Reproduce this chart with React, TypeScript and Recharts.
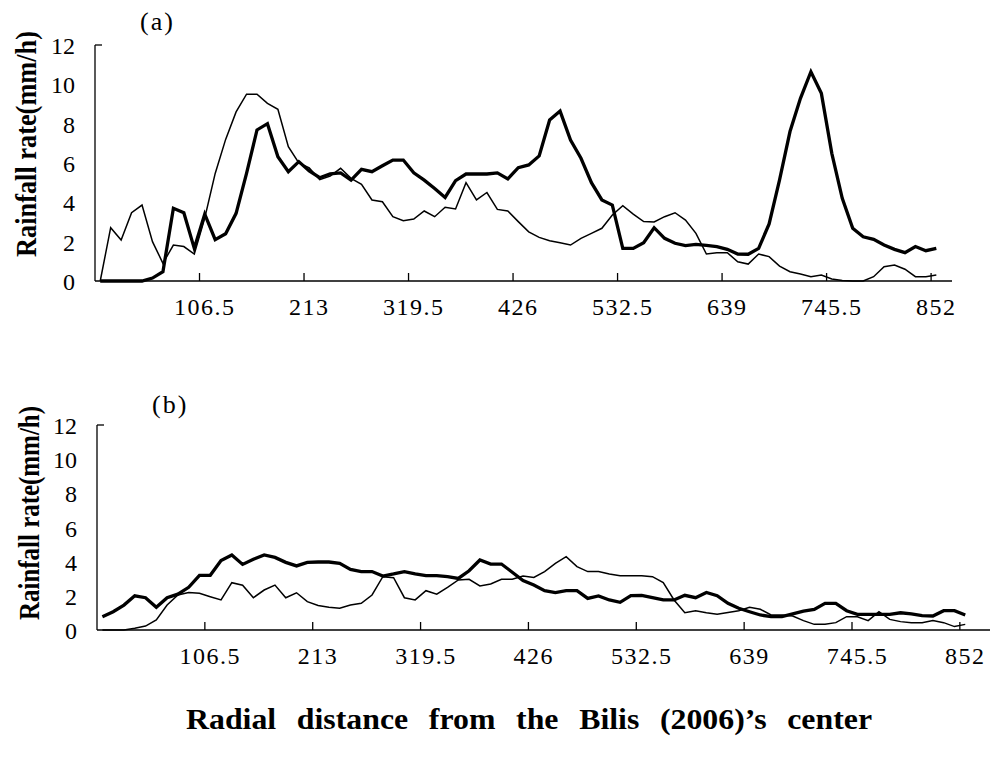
import React from "react";
import { LineChart, Line, XAxis, YAxis } from "recharts";

// ---------- data ----------
const STEP_KM = 10.65;
const distanceTickLabels = ["106.5", "213", "319.5", "426", "532.5", "639", "745.5", "852"];
const rainTicks = [0, 2, 4, 6, 8, 10, 12];

// (a) bold series
const topThick = [
  0, 0, 0, 0, 0, 0.15, 0.47, 3.7, 3.47, 1.66,
  3.4, 2.1, 2.4, 3.44, 5.47, 7.68, 8.0, 6.32, 5.56, 6.07,
  5.6, 5.25, 5.45, 5.5, 5.13, 5.68, 5.56, 5.86, 6.15, 6.15,
  5.5, 5.13, 4.7, 4.25, 5.1, 5.44, 5.44, 5.44, 5.5, 5.19,
  5.76, 5.9, 6.36, 8.19, 8.64, 7.17, 6.24, 5.0, 4.12, 3.86,
  1.66, 1.66, 1.95, 2.71, 2.17, 1.92, 1.8, 1.86, 1.81, 1.75,
  1.61, 1.37, 1.36, 1.66, 2.9, 5.14, 7.6, 9.29, 10.64, 9.54,
  6.49, 4.2, 2.68, 2.25, 2.12, 1.83, 1.61, 1.44, 1.75, 1.54,
  1.66,
];
// (a) thin series
const topThin = [
  0, 2.71, 2.08, 3.47, 3.86, 2.0, 0.9, 1.83, 1.75, 1.37,
  3.2, 5.47, 7.2, 8.6, 9.5, 9.5, 9.03, 8.73, 6.83, 6.0,
  5.75, 5.15, 5.34, 5.73, 5.22, 4.92, 4.12, 4.03, 3.27, 3.07,
  3.15, 3.56, 3.27, 3.75, 3.66, 5.0, 4.12, 4.5, 3.64, 3.56,
  3.02, 2.5, 2.22, 2.05, 1.95, 1.83, 2.17, 2.42, 2.68, 3.36,
  3.83, 3.4, 3.02, 3.0, 3.27, 3.47, 3.1, 2.42, 1.37, 1.44,
  1.44, 0.98, 0.86, 1.37, 1.24, 0.76, 0.47, 0.36, 0.22, 0.3,
  0.1, 0.02, 0, 0, 0.22, 0.73, 0.81, 0.6, 0.22, 0.22,
  0.3,
];
// (b) bold series
const bottomThick = [
  0.78, 1.07, 1.46, 2.0, 1.89, 1.33, 1.89, 2.1, 2.5, 3.2,
  3.2, 4.06, 4.39, 3.84, 4.14, 4.39, 4.25, 3.96, 3.75, 3.96,
  3.98, 3.98, 3.9, 3.55, 3.42, 3.42, 3.16, 3.28, 3.42, 3.28,
  3.18, 3.18, 3.12, 3.02, 3.47, 4.1, 3.86, 3.86, 3.38, 2.89,
  2.63, 2.3, 2.19, 2.3, 2.3, 1.85, 1.99, 1.76, 1.62, 2.01,
  2.03, 1.89, 1.76, 1.76, 2.03, 1.89, 2.2, 2.01, 1.56, 1.27,
  1.07, 0.88, 0.78, 0.78, 0.94, 1.11, 1.21, 1.56, 1.56, 1.13,
  0.92, 0.92, 0.92, 0.92, 1.01, 0.94, 0.84, 0.82, 1.13, 1.13,
  0.88,
];
// (b) thin series
const bottomThin = [
  0, 0, 0, 0.1, 0.23, 0.59, 1.46, 2.05, 2.2, 2.15,
  1.95, 1.76, 2.77, 2.62, 1.89, 2.34, 2.63, 1.89, 2.18, 1.66,
  1.43, 1.33, 1.27, 1.46, 1.56, 2.05, 3.12, 3.06, 1.89, 1.76,
  2.3, 2.1, 2.5, 2.93, 2.97, 2.58, 2.69, 2.97, 2.97, 3.16,
  3.08, 3.42, 3.9, 4.29, 3.71, 3.42, 3.42, 3.28, 3.18, 3.18,
  3.18, 3.12, 2.77, 1.76, 1.01, 1.13, 1.01, 0.92, 1.03, 1.13,
  1.33, 1.21, 0.88, 0.88, 0.82, 0.55, 0.33, 0.33, 0.43, 0.78,
  0.78, 0.55, 1.07, 0.62, 0.49, 0.43, 0.43, 0.55, 0.43, 0.2,
  0.33,
];

const build = (thick: number[], thin: number[]) =>
  thick.map((v, i) => ({ idx: i, km: +(i * STEP_KM).toFixed(2), thick: v, thin: thin[i] }));

const topData = build(topThick, topThin);
const bottomData = build(bottomThick, bottomThin);
const tickIdx = distanceTickLabels.map((l) => Math.round(parseFloat(l) / STEP_KM));

const SERIF = '"Liberation Serif", "Times New Roman", serif';

// ---------- ticks ----------
function makeXTick(half: number) {
  return (props: any) => {
    const { x, y, payload } = props;
    const label = distanceTickLabels[tickIdx.indexOf(payload.value)];
    return (
      <g>
        <line x1={x - half} x2={x - half} y1={y - 8} y2={y} stroke="#000" strokeWidth={1.3} />
        <text x={x} y={y + 34} textAnchor="middle" fontFamily={SERIF} fontSize={24} letterSpacing={1.5} fill="#000">
          {label}
        </text>
      </g>
    );
  };
}

const YTick = (props: any) => {
  const { x, y, payload } = props;
  return (
    <g>
      {payload.value === 12 && (
        <line x1={x + 20} x2={x + 27} y1={y} y2={y} stroke="#000" strokeWidth={1.3} />
      )}
      <text x={x} y={y} dy="0.38em" textAnchor="end" fontFamily={SERIF} fontSize={24} fill="#000">
        {payload.value}
      </text>
    </g>
  );
};

const axisStyle = { stroke: "#000", strokeWidth: 1.3 };

function Panel(props: { data: any[]; width: number; height: number; margin: any; yWidth: number; maxIdx: number; half: number }) {
  const { data, width, height, margin, yWidth, maxIdx, half } = props;
  return (
    <LineChart width={width} height={height} data={data} margin={margin}>
      <XAxis
        type="number"
        dataKey="idx"
        domain={[-0.5, maxIdx + 0.5]}
        ticks={tickIdx}
        interval={0}
        allowDataOverflow
        tick={makeXTick(half)}
        tickSize={0}
        tickMargin={0}
        tickLine={false}
        axisLine={axisStyle}
        height={40}
      />
      <YAxis
        type="number"
        domain={[0, 12]}
        ticks={rainTicks}
        interval={0}
        width={yWidth}
        tickSize={0}
        tickMargin={20}
        tickLine={false}
        axisLine={axisStyle}
        tick={<YTick />}
      />
      <Line type="linear" dataKey="thin" stroke="#000" strokeWidth={1.5} dot={false} isAnimationActive={false} />
      <Line type="linear" dataKey="thick" stroke="#000" strokeWidth={3.3} dot={false} isAnimationActive={false} />
    </LineChart>
  );
}

export default function App() {
  return (
    <div style={{ position: "absolute", left: 0, top: 0, width: 990, height: 760, overflow: "hidden", background: "#fff" }}>
      <div style={{ position: "absolute", left: 0, top: 0 }}>
        <Panel data={topData} width={990} height={330} margin={{ top: 45, right: 38, left: 0, bottom: 9 }} yWidth={95} maxIdx={81} half={857 / 82 / 2} />
      </div>
      <div style={{ position: "absolute", left: 0, top: 330 }}>
        <Panel data={bottomData} width={1010} height={340} margin={{ top: 95, right: 7, left: 0, bottom: 0 }} yWidth={97} maxIdx={83} half={906 / 84 / 2} />
      </div>
      <svg width={990} height={760} style={{ position: "absolute", left: 0, top: 0, pointerEvents: "none" }}>
        <text x={140} y={30} fontFamily={SERIF} fontSize={26} letterSpacing={2} fill="#000">(a)</text>
        <text x={152} y={413} fontFamily={SERIF} fontSize={26} letterSpacing={2} fill="#000">(b)</text>
        <text
          x={36}
          y={257}
          transform="rotate(-90 36 257)"
          fontFamily={SERIF}
          fontWeight="bold"
          fontSize={30}
          textLength={226}
          lengthAdjust="spacingAndGlyphs"
          fill="#000"
        >
          Rainfall rate(mm/h)
        </text>
        <text
          x={39}
          y={620}
          transform="rotate(-90 39 620)"
          fontFamily={SERIF}
          fontWeight="bold"
          fontSize={30}
          textLength={214}
          lengthAdjust="spacingAndGlyphs"
          fill="#000"
        >
          Rainfall rate(mm/h)
        </text>
        <text
          x={186}
          y={729}
          fontFamily={SERIF}
          fontWeight="bold"
          fontSize={30}
          textLength={686}
          lengthAdjust="spacingAndGlyphs"
          style={{ wordSpacing: 12 }}
          fill="#000"
        >
          Radial distance from the Bilis (2006)’s center
        </text>
      </svg>
    </div>
  );
}
